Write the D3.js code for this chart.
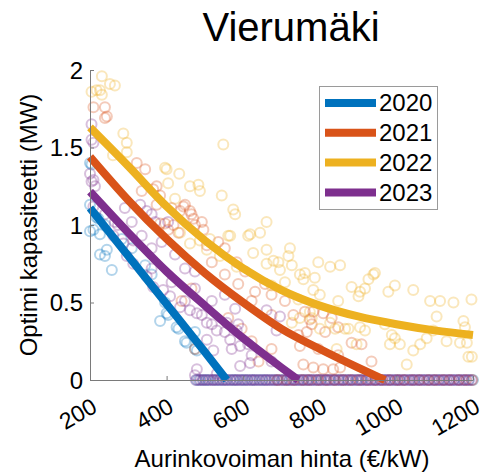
<!DOCTYPE html>
<html>
<head>
<meta charset="utf-8">
<script src="https://cdn.jsdelivr.net/npm/d3@7"></script>
<style>
  html, body { margin: 0; padding: 0; background: #fff; }
  svg { display: block; font-family: "Liberation Sans", Arial, Helvetica, sans-serif; }
</style>
</head>
<body>
<svg id="chart" width="484" height="472"></svg>
<script>
// Years and their line colours
const years = ["2020", "2021", "2022", "2023"];
const colors = ["#0072BD", "#D95319", "#EDB120", "#7E2F8E"];

// Axis ticks
const xTicks = [200, 400, 600, 800, 1000, 1200];
const yTicks = [0, 0.5, 1, 1.5, 2];

// Simulated optimum capacity (MW) against solar price (€/kW), one list per year
const pts2020 = [[204,1.39],[200,1.40],[200,1.13],[200,0.96],[222,1.04],[239,1.00],[226,0.94],[239,0.80],[257,0.71],
  [283,0.91],[309,0.85],[344,0.74],[361,0.68],[383,0.38],[404,0.42],[431,0.33],[396,0.50],[448,0.25],[474,0.20],
  [474,0.31],[400,0.43],[426,0.34],[479,0.19],[452,0.24],[226,0.81],[244,0.84],[209,0.97],[217,1.05]];
const pts2021 = [[209,1.76],[239,1.76],[244,1.70],[239,1.69],[322,1.40],[344,1.36],[383,1.19],[374,1.13],[444,1.12],
  [435,1.09],[396,1.01],[418,1.00],[383,1.01],[461,1.09],[470,1.04],[492,1.02],[365,1.23],[374,1.25],[404,0.97],
  [431,0.95],[448,1.13],[465,1.07],[496,0.97],[505,0.87],[535,0.89],[552,0.85],[583,0.76],[605,0.70],[587,0.62],
  [631,0.57],[657,0.62],[674,0.55],[709,0.51],[731,0.42],[761,0.44],[779,0.36],[814,0.31],[883,0.24],[909,0.23],
  [561,0.40],[596,0.33],[622,0.25],[674,0.20],[640,0.12],[474,0.20],[439,0.51],[465,0.59],[783,0.44],[774,0.39],
  [809,0.43],[831,0.40],[848,0.34],[766,0.31],[748,0.22],[783,0.08],[809,0.07],[835,0.07],[853,0.08],[757,0.10],
  [335,1.22],[413,1.11],[474,1.00],[518,0.76],[552,0.68],[622,0.51],[674,0.42],[744,0.29],[796,0.20],[848,0.16],
  [935,0.12]];
const pts2022 = [[231,1.96],[265,1.90],[204,1.86],[226,1.87],[231,1.84],[252,1.91],[217,1.87],[287,1.59],[296,1.53],
  [296,1.47],[260,1.45],[400,1.36],[433,1.33],[548,1.52],[404,1.27],[461,1.25],[483,1.26],[487,1.22],[544,1.19],
  [574,1.10],[579,1.07],[661,1.02],[422,1.17],[396,1.37],[613,0.93],[644,0.95],[561,0.93],[722,0.85],[692,0.76],
  [796,0.76],[827,0.73],[853,0.74],[761,0.69],[787,0.66],[883,0.60],[918,0.59],[944,0.69],[927,0.65],[979,0.57],
  [674,0.61],[709,0.63],[848,0.51],[901,0.54],[970,0.36],[988,0.29],[827,0.37],[866,0.33],[744,0.52],[779,0.40],
  [718,0.80],[727,0.74],[748,0.68],[757,0.65],[783,0.58],[800,0.55],[905,0.57],[940,0.68],[996,0.61],[1044,0.58],
  [1088,0.51],[1114,0.51],[1149,0.50],[1196,0.52],[1105,0.41],[1175,0.38],[1096,0.32],[1131,0.25],[1166,0.24],
  [1188,0.15],[996,0.27],[1009,0.23],[983,0.23],[1044,0.19],[1027,0.10],[1062,0.23],[1079,0.27],[905,0.34],
  [918,0.32],[800,0.33],[840,0.33],[875,0.33],[896,0.23],[844,0.20],[774,0.44],[748,0.40],[727,0.37],[435,0.95],
  [461,0.88],[487,0.90],[513,0.91],[505,0.84],[566,0.93],[618,0.94],[626,0.82],[661,0.84],[679,0.77],[661,0.75],
  [696,0.71],[583,0.73],[539,0.80],[1179,0.34],[1184,0.24],[1197,0.15]];
const pts2023 = [[204,1.65],[204,1.55],[209,1.53],[200,1.33],[204,1.28],[209,1.29],[209,1.12],[331,1.13],[348,1.09],
  [370,1.02],[261,0.93],[287,0.88],[313,0.90],[296,0.80],[313,0.75],[348,0.67],[365,0.60],[391,0.58],[409,0.54],
  [435,0.47],[461,0.45],[479,0.43],[505,0.37],[531,0.32],[505,0.26],[522,0.19],[566,0.26],[592,0.22],[618,0.11],
  [592,0.09],[661,0.45],[696,0.41],[687,0.32],[479,0.07],[531,0.04],[557,0.37],[583,0.32],[213,1.25],[239,1.07],
  [265,1.02],[291,1.11],[335,0.93],[361,0.85],[387,0.89],[422,0.81],[448,0.72],[474,0.70],[474,0.59],[518,0.51],
  [552,0.55],[579,0.46],[518,0.36],[587,0.36],[613,0.23],[622,0.16],[474,0.03],[273,1.00],[309,1.02],[361,1.07],
  [404,1.02],[361,0.72],[413,0.63],[448,0.51],[492,0.42],[552,0.31],[570,0.20],[674,0.12]];

// Prices where the optimum capacity is zero
const zero2020 = [478,486,495,503,510,521,530,538,547,556,566,575,583,594,602,611,622,630,641,650,659,670,681,690,
  702,713,722,735,746,757,768,779,792,803,815,826,838,850,861,873,885,897,909,921,934,946,958,971,983,996,1008,
  1021,1034,1046,1059,1072,1085,1098,1111,1124,1137,1150,1163,1176,1189,1200];
const zero2021 = [690,712,731,755,772,796,818,839,861,880,903,925,944,962,981,1003,1019,1042,1060,1083,1101,1122,
  1140,1163,1181,1198];
const zero2022 = [];
const zero2023 = [476,482,489,495,501,508,515,521,526,533,540,547,553,559,566,573,579,585,591,598,605,611,618,624,
  630,636,643,650,657,662,668,675,681,688,694,701,707,714,720,727,733,739,745,752,758,765,771,778,784,790,797,803,
  810,816,822,829,836,842,849,855,861,868,874,881,887,894,900,907,913,920,926,932,939,945,951,958,964,971,977,984,
  990,997,1003,1009,1016,1022,1028,1035,1041,1048,1054,1061,1067,1073,1080,1086,1093,1099,1106,1112,1118,1125,
  1131,1138,1144,1150,1157,1163,1170,1176,1183,1189,1196];

// Fitted trend per year, ending where it reaches zero
const fitX2020 = [200, 300, 400, 500, 557];
const fitY2020 = [1.11, 0.80, 0.49, 0.18, 0];
const fitX2021 = [200, 300, 400, 500, 600, 700, 800, 900, 970];
const fitY2021 = [1.44, 1.16, 0.91, 0.69, 0.50, 0.33, 0.20, 0.08, 0];
const fitX2022 = [200, 300, 400, 500, 600, 700, 800, 900, 1000, 1100, 1200];
const fitY2022 = [1.63, 1.38, 1.12, 0.90, 0.72, 0.58, 0.48, 0.41, 0.36, 0.32, 0.29];
const fitX2023 = [200, 300, 400, 500, 600, 700, 744];
const fitY2023 = [1.215, 0.95, 0.70, 0.48, 0.27, 0.08, 0];

const scatter = [pts2020, pts2021, pts2022, pts2023];
const zeros = [zero2020, zero2021, zero2022, zero2023];
const fitXs = [fitX2020, fitX2021, fitX2022, fitX2023];
const fitYs = [fitY2020, fitY2021, fitY2022, fitY2023];

const svg = d3.select("#chart");
const x = d3.scaleLinear().domain([200, 1200]).range([90, 473]);
const y = d3.scaleLinear().domain([0, 2]).range([380, 70]);
const axisColor = "#7a7a7a";

// Scatter markers (open circles, translucent)
years.forEach((yr, i) => {
  const all = scatter[i].concat(zeros[i].map(v => [v, 0]));
  svg.append("g")
    .selectAll("circle")
    .data(all)
    .join("circle")
    .attr("cx", d => x(d[0]))
    .attr("cy", d => y(d[1]))
    .attr("r", 5)
    .attr("fill", "none")
    .attr("stroke", colors[i])
    .attr("stroke-width", 2)
    .attr("stroke-opacity", 0.3);
});

// Fitted lines
const line = d3.line()
  .x(d => x(d[0]))
  .y(d => y(d[1]))
  .curve(d3.curveMonotoneX);
years.forEach((yr, i) => {
  const pts = fitXs[i].map((v, j) => [v, fitYs[i][j]]);
  svg.append("path")
    .datum(pts)
    .attr("d", line)
    .attr("fill", "none")
    .attr("stroke", colors[i])
    .attr("stroke-width", 8);
});

// Axes
const xAxis = svg.append("g")
  .attr("transform", "translate(0,380)")
  .call(d3.axisBottom(x).tickValues(xTicks).tickSizeInner(-4).tickSizeOuter(0).tickFormat(d3.format("d")));
xAxis.select(".domain").attr("stroke", axisColor);
xAxis.selectAll(".tick line").attr("stroke", axisColor);
xAxis.selectAll(".tick text")
  .attr("x", 0).attr("y", 0).attr("dy", null)
  .attr("text-anchor", "end")
  .attr("transform", "translate(8,31) rotate(-30)")
  .attr("font-size", 23)
  .attr("font-family", "Liberation Sans, Arial, sans-serif")
  .attr("fill", "#000");

const yAxis = svg.append("g")
  .attr("transform", "translate(90,0)")
  .call(d3.axisLeft(y).tickValues(yTicks).tickSizeInner(-4).tickSizeOuter(0).tickPadding(7)
    .tickFormat(d => d3.format("~g")(d)));
yAxis.select(".domain").attr("stroke", axisColor);
yAxis.selectAll(".tick line").attr("stroke", axisColor);
yAxis.selectAll(".tick text")
  .attr("dy", "0.34em")
  .attr("font-size", 24)
  .attr("font-family", "Liberation Sans, Arial, sans-serif")
  .attr("fill", "#000");

// Titles
svg.append("text")
  .attr("x", 291).attr("y", 41)
  .attr("text-anchor", "middle")
  .attr("font-size", 40)
  .text("Vierumäki");
svg.append("text")
  .attr("x", 282).attr("y", 467)
  .attr("text-anchor", "middle")
  .attr("font-size", 24)
  .text("Aurinkovoiman hinta (€/kW)");
svg.append("text")
  .attr("transform", "translate(37,225) rotate(-90)")
  .attr("text-anchor", "middle")
  .attr("font-size", 24)
  .text("Optimi kapasiteetti (MW)");

// Legend
const legend = svg.append("g");
legend.append("rect")
  .attr("x", 319.5).attr("y", 86.5)
  .attr("width", 118).attr("height", 123)
  .attr("fill", "#fff")
  .attr("stroke", "#9a9a9a")
  .attr("stroke-width", 1);
years.forEach((yr, i) => {
  const cy = 103 + i * 29.8;
  legend.append("line")
    .attr("x1", 325).attr("x2", 376)
    .attr("y1", cy).attr("y2", cy)
    .attr("stroke", colors[i])
    .attr("stroke-width", 8);
  legend.append("text")
    .attr("x", 379).attr("y", cy)
    .attr("dy", "0.35em")
    .attr("font-size", 24)
    .text(yr);
});
</script>
</body>
</html>
